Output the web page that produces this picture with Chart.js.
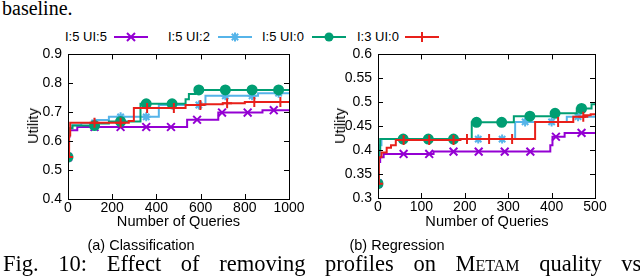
<!DOCTYPE html>
<html>
<head>
<meta charset="utf-8">
<script src="https://cdn.jsdelivr.net/npm/chart.js@4.4.1/dist/chart.umd.min.js"></script>
<style>
  body { margin: 0; width: 640px; height: 279px; overflow: hidden; background: #fff; position: relative; }
  .serif { position: absolute; font-family: "Liberation Serif", "Times New Roman", serif; font-size: 20px; white-space: nowrap; color: #000; }
  .sc { font-variant: small-caps; }
  .sans { position: absolute; font-family: "Liberation Sans", Arial, sans-serif; font-size: 13px; white-space: nowrap; color: #000; }
  .axt { position: absolute; font-family: "Liberation Sans", Arial, sans-serif; font-size: 14.6px; white-space: nowrap; color: #000; transform: translate(-50%, -50%); }
  .axt.rot { transform: translate(-50%, -50%) rotate(-90deg); }
  canvas { position: absolute; }
  svg { position: absolute; }
</style>
</head>
<body>
<div class="serif" style="left:2px; top:-3px;">baseline.</div>

<div class="sans" style="left:65px; top:29px;">I:5 UI:5</div>
<svg style="left:113px; top:31px;" width="36" height="12">
  <line x1="1" y1="6" x2="35" y2="6" stroke="#9400d3" stroke-width="2"/>
  <path d="M14 2 L22 10 M22 2 L14 10" stroke="#9400d3" stroke-width="2"/>
</svg>
<div class="sans" style="left:168px; top:29px;">I:5 UI:2</div>
<svg style="left:217px; top:31px;" width="36" height="12">
  <line x1="1" y1="6" x2="35" y2="6" stroke="#56b4e9" stroke-width="2"/>
  <path d="M18 1.5 L18 10.5 M13.5 6 L22.5 6 M14.8 2.8 L21.2 9.2 M21.2 2.8 L14.8 9.2" stroke="#56b4e9" stroke-width="2"/>
</svg>
<div class="sans" style="left:262px; top:29px;">I:5 UI:0</div>
<svg style="left:311px; top:31px;" width="36" height="12">
  <line x1="1" y1="6" x2="35" y2="6" stroke="#009e73" stroke-width="2"/>
  <circle cx="18" cy="6" r="4.5" fill="#009e73"/>
</svg>
<div class="sans" style="left:357px; top:29px;">I:3 UI:0</div>
<svg style="left:404px; top:31px;" width="36" height="12">
  <line x1="1" y1="6" x2="35" y2="6" stroke="#e8201a" stroke-width="2"/>
  <path d="M18 1 L18 11" stroke="#e8201a" stroke-width="2"/>
</svg>

<canvas id="clsChart" width="320" height="200" style="left:0px; top:40px;"></canvas>
<canvas id="regChart" width="300" height="200" style="left:310px; top:40px;"></canvas>

<div class="axt rot" style="left:33px; top:126px;">Utility</div>
<div class="axt" style="left:178.5px; top:221px;">Number of Queries</div>
<div class="axt rot" style="left:340px; top:126px;">Utility</div>
<div class="axt" style="left:487px; top:221px;">Number of Queries</div>

<div class="axt" style="left:141px; top:245px; font-size:14.5px;">(a) Classification</div>
<div class="axt" style="left:397px; top:245px; font-size:14.5px;">(b) Regression</div>
<div class="serif" style="left:3px; top:251px; font-size:22.5px; word-spacing:14px;">Fig. 10: Effect of removing profiles on M<span class="sc">etam</span> quality vs</div>

<script>
// series names
const seriesNames = ["I:5 UI:5", "I:5 UI:2", "I:5 UI:0", "I:3 UI:0"];
const colors = ["#9400d3", "#56b4e9", "#009e73", "#e8201a"];
const markerStyles = ["crossRot", "star", "circle", "cross"];
const markerSizes = [5.5, 4.5, 4.5, 5];

// (a) classification: step points [queries, utility]
const clsP = [[0,0.545],[4,0.615],[7,0.638],[42,0.649],[539,0.674],[680,0.699],[880,0.707],[1000,0.707]];
const clsB = [[0,0.545],[4,0.62],[8,0.645],[20,0.655],[60,0.663],[125,0.673],[185,0.684],[411,0.725],[622,0.757],[860,0.766],[1000,0.766]];
const clsG = [[0,0.545],[3,0.63],[6,0.645],[20,0.654],[125,0.661],[185,0.668],[328,0.729],[532,0.745],[547,0.763],[577,0.777],[1000,0.776]];
const clsR = [[0,0.545],[5,0.62],[10,0.664],[275,0.67],[298,0.715],[532,0.725],[600,0.728],[700,0.731],[800,0.735],[1000,0.735]];
// where the markers sit (queries)
const clsMarkP = [0,120,238,354,466,584,697,813,931];
const clsMarkB = [0,120,238,354,474,592,712,833,953];
const clsMarkG = [0,120,238,354,471,592,712,833,953];
const clsMarkR = [0,120,238,358,479,599,720,843,961];
const clsXTicks = [0,200,400,600,800,1000];
const clsYTicks = [0.4,0.5,0.6,0.7,0.8,0.9];

// (b) regression
const regP = [[0,0.33],[2,0.375],[5,0.385],[13,0.392],[128,0.397],[397,0.41],[402,0.428],[430,0.436],[500,0.436]];
const regB = [[0,0.33],[2,0.39],[5,0.41],[8,0.423],[316,0.459],[435,0.47],[500,0.472]];
const regG = [[0,0.33],[2,0.40],[5,0.423],[216,0.458],[313,0.471],[400,0.477],[458,0.487],[492,0.496],[500,0.496]];
const regR = [[0,0.33],[2,0.385],[8,0.395],[20,0.405],[30,0.41],[41,0.421],[190,0.423],[362,0.459],[450,0.47],[477,0.473],[490,0.475],[500,0.475]];
const regMarkP = [0,59,118,174,232,292,351,410,469];
const regMarkB = [0,58,116,174,231,286,339,400,461];
const regMarkG = [0,58,116,174,227,285,350,408,469];
const regMarkR = [0,59,118,174,205,256,309,415,473];
const regXTicks = [0,100,200,300,400,500];
const regYTicks = [0.3,0.35,0.4,0.45,0.5,0.55,0.6];

const FONT = "'Liberation Sans', Arial, sans-serif";

function stepValue(steps, x) {
  let y = steps[0][1];
  for (const s of steps) { if (s[0] <= x) y = s[1]; }
  return y;
}

function buildDatasets(stepsList, marksList) {
  const ds = [];
  stepsList.forEach((steps, i) => {
    const order = 10 - i * 2;
    ds.push({
      label: seriesNames[i],
      data: steps.map(p => ({x: p[0], y: p[1]})),
      stepped: true,   // hold value until next point
      borderColor: colors[i],
      borderWidth: 2,
      pointRadius: 0,
      fill: false,
      order: order
    });
    ds.push({
      label: seriesNames[i] + " points",
      data: marksList[i].map(x => ({x: x, y: stepValue(steps, x)})),
      showLine: false,
      pointStyle: markerStyles[i],
      pointRadius: markerSizes[i],
      pointBorderWidth: 2,
      borderColor: colors[i],
      backgroundColor: colors[i],
      order: order - 1
    });
  });
  return ds;
}

// gnuplot-like frame with inward ticks
const framePlugin = {
  id: "frame",
  afterDatasetsDraw(chart) {
    const {ctx, chartArea: a, scales} = chart;
    ctx.save();
    ctx.strokeStyle = "#000";
    ctx.lineWidth = 1;
    ctx.beginPath();
    scales.x.ticks.forEach(t => {
      const px = Math.round(scales.x.getPixelForValue(t.value)) + 0.5;
      ctx.moveTo(px, a.bottom); ctx.lineTo(px, a.bottom - 5);
      ctx.moveTo(px, a.top); ctx.lineTo(px, a.top + 5);
    });
    scales.y.ticks.forEach(t => {
      const py = Math.round(scales.y.getPixelForValue(t.value)) + 0.5;
      ctx.moveTo(a.left, py); ctx.lineTo(a.left + 5, py);
      ctx.moveTo(a.right, py); ctx.lineTo(a.right - 5, py);
    });
    ctx.stroke();
    ctx.strokeRect(Math.round(a.left) + 0.5, Math.round(a.top) + 0.5,
      Math.round(a.right - a.left), Math.round(a.bottom - a.top));
    ctx.restore();
  }
};

function makeChart(id, stepsList, marksList, xTicks, yTicks, cfg) {
  return new Chart(id, {
    type: "line",
    data: { datasets: buildDatasets(stepsList, marksList) },
    options: {
      responsive: false,
      animation: false,
      devicePixelRatio: 1,
      layout: { padding: { left: 0, top: cfg.top, right: cfg.right, bottom: 0 } },
      plugins: { legend: { display: false }, tooltip: { enabled: false } },
      scales: {
        x: {
          type: "linear",
          min: xTicks[0],
          max: xTicks[xTicks.length - 1],
          afterBuildTicks: s => { s.ticks = xTicks.map(v => ({value: v})); },
          afterFit: s => { s.height = cfg.xHeight; },
          grid: { display: false, drawTicks: false },
          border: { display: false },
          ticks: { color: "#000", font: { family: FONT, size: 14 }, padding: 1, maxRotation: 0,
                   callback: v => String(v) }
        },
        y: {
          min: yTicks[0],
          max: yTicks[yTicks.length - 1],
          afterBuildTicks: s => { s.ticks = yTicks.map(v => ({value: v})); },
          afterFit: s => { s.width = cfg.yWidth; },
          grid: { display: false, drawTicks: false },
          border: { display: false },
          ticks: { color: "#000", font: { family: FONT, size: 14 }, padding: 6,
                   callback: v => String(+v.toFixed(2)) }
        }
      }
    },
    plugins: [framePlugin]
  });
}

makeChart("clsChart", [clsP, clsB, clsG, clsR], [clsMarkP, clsMarkB, clsMarkG, clsMarkR],
  clsXTicks, clsYTicks, { top: 13, right: 31, xHeight: 41, yWidth: 68 });
makeChart("regChart", [regP, regB, regG, regR], [regMarkP, regMarkB, regMarkG, regMarkR],
  regXTicks, regYTicks, { top: 14, right: 15, xHeight: 42, yWidth: 68 });
</script>
</body>
</html>
